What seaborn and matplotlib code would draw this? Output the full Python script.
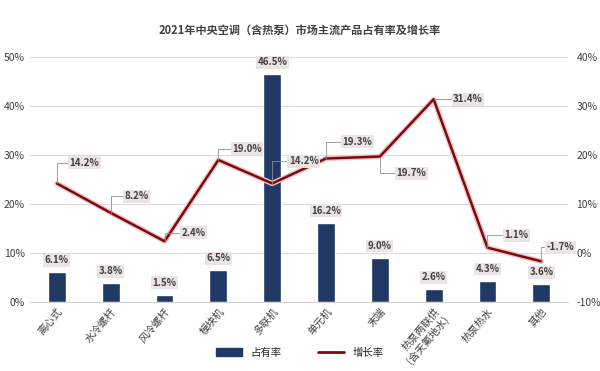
import seaborn as sns
import pandas as pd
import matplotlib.pyplot as plt
import matplotlib.patheffects as pe
from matplotlib.patches import Patch
from matplotlib.lines import Line2D
from matplotlib.ticker import FuncFormatter

# data
categories = ['离心式', '水冷螺杆', '风冷螺杆', '模块机', '多联机', '单元机', '末端',
              '热泵两联供\n(含天氟地水)', '热泵热水', '其他']
share = [6.1, 3.8, 1.5, 6.5, 46.5, 16.2, 9.0, 2.6, 4.3, 3.6]
growth = [14.2, 8.2, 2.4, 19.0, 14.2, 19.3, 19.7, 31.4, 1.1, -1.7]

# label offsets for growth labels (points)
growth_offsets = [(9, 15), (10, 12), (12, 6), (10, 8), (12, 16), (12, 12), (12, -12),
                  (14, 0), (12, 9), (4, 10)]

sns.set_style('white')
plt.rcParams['font.family'] = ['Noto Sans CJK SC', 'DejaVu Sans']

df = pd.DataFrame({'cat': categories, 'share': share, 'growth': growth,
                   'pos': range(len(categories))})

bar_color = '#1f3864'
line_color = '#7a0c10'
txt_color = '#404040'
box = dict(boxstyle='square,pad=0.15', fc='#ece4e4', ec='none')

fig = plt.figure(figsize=(6, 3.71), dpi=100)
ax = fig.add_axes([0.05, 0.186, 0.897, 0.66])

sns.barplot(data=df, x='pos', y='share', color=bar_color, width=0.33, ax=ax,
            saturation=1)
ax.set_ylim(0, 50)
ax.set_yticks(range(0, 51, 10))
ax.yaxis.set_major_formatter(FuncFormatter(lambda v, p: f'{v:.0f}%'))
ax.set_xticks(range(len(categories)))
ax.set_xticklabels(categories, rotation=50, ha='right', rotation_mode='anchor',
                   fontsize=7.5, color=txt_color, style='italic')
ax.set_xlabel('')
ax.set_ylabel('')
ax.grid(axis='y', color='#dcdcdc', lw=0.8)
ax.set_axisbelow(True)
ax.tick_params(axis='y', labelsize=7.5, labelcolor=txt_color, length=0)
ax.tick_params(axis='x', length=0, pad=3)
for s in ['top', 'right', 'left']:
    ax.spines[s].set_visible(False)
ax.spines['bottom'].set_color('#d0d0d0')
for lab in ax.get_yticklabels():
    lab.set_style('italic')

for i, v in enumerate(share):
    ax.annotate(f'{v:.1f}%', (i, v), xytext=(0, 5), textcoords='offset points',
                ha='center', va='bottom', fontsize=7, color=txt_color,
                style='italic', fontweight='bold', bbox=box)

ax2 = ax.twinx()
sns.lineplot(data=df, x='pos', y='growth', color=line_color, lw=1.8, ax=ax2,
             path_effects=[pe.Stroke(linewidth=3.8, foreground='#f2c4c4'), pe.Normal()])
ax2.set_ylim(-10, 40)
ax2.set_yticks(range(-10, 41, 10))
ax2.yaxis.set_major_formatter(FuncFormatter(lambda v, p: f'{v:.0f}%'))
ax2.tick_params(axis='y', labelsize=7.5, labelcolor=txt_color, length=0, pad=6)
for lab in ax2.get_yticklabels():
    lab.set_style('italic')
ax2.set_ylabel('')
for s in ['top', 'right', 'left', 'bottom']:
    ax2.spines[s].set_visible(False)

for i, v in enumerate(growth):
    dx, dy = growth_offsets[i]
    ax2.annotate(f'{v:.1f}%', (i, v), xytext=(dx, dy), textcoords='offset points',
                 ha='left', va='center', fontsize=7, color=txt_color,
                 style='italic', fontweight='bold', bbox=box,
                 arrowprops=dict(arrowstyle='-', color='#909090', lw=0.6,
                                 connectionstyle='angle,angleA=0,angleB=90,rad=0',
                                 shrinkA=0, shrinkB=0))

ax.set_xlim(-0.5, len(categories) - 0.5)

fig.suptitle('2021年中央空调（含热泵）市场主流产品占有率及增长率', x=0.5, y=0.935,
             fontsize=8, fontweight='bold', style='italic', color=txt_color)

handles = [Patch(color=bar_color, label='占有率'),
           Line2D([0], [0], color=line_color, lw=2, label='增长率')]
fig.legend(handles=handles, loc='center', bbox_to_anchor=(0.5, 0.05), ncol=2,
           frameon=False, fontsize=7.5, handlelength=2.5, columnspacing=3.5)

fig.savefig('out.png', dpi=100)
